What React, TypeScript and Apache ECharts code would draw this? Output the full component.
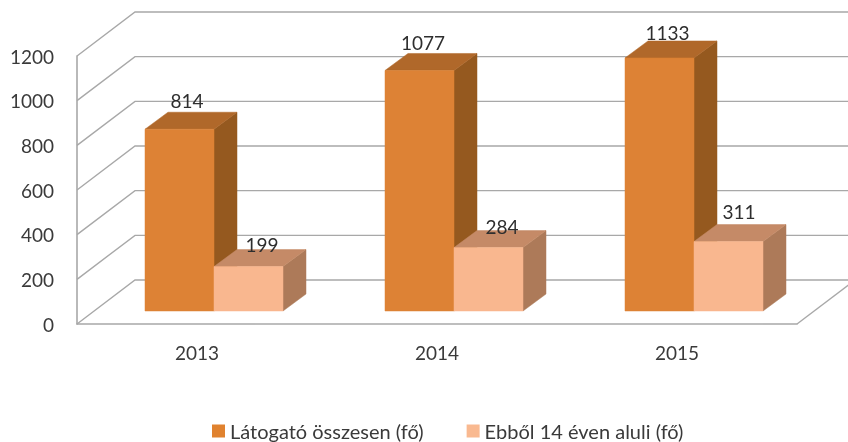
import React, { useEffect, useRef } from "react";
import * as echarts from "echarts";

const categories = ["2013", "2014", "2015"];
const totalName = "Látogató összesen (fő)";
const childName = "Ebből 14 éven aluli (fő)";
const totalValues = [814, 1077, 1133];
const childValues = [199, 284, 311];
const yTicks = [0, 200, 400, 600, 800, 1000, 1200];

// pixel nudges of value labels relative to bar front top centre
const totalLabelNudge = [[7.5, -29], [3.5, -27.5], [8, -25]];
const childLabelNudge = [[13.5, -22.5], [13.5, -21.5], [10.5, -30]];

const FONT = "Lato, Carlito, 'Open Sans', sans-serif";
const TEXT = "#3a3a3a";
const GRID = "#a8a8a8";
const WALL_DX = 58, WALL_DY = -44;      // plot depth
const FLOOR_DX = 17, FLOOR_DY = -13;    // where bar fronts stand
const BAR_DX = 23, BAR_DY = -17;        // bar depth
const BAR_BAND = 0.2875;

const renderWall = (params: any, api: any) => {
  const cs = params.coordSys;
  const y = api.coord([0, api.value(0)])[1];
  const x0 = cs.x, x1 = cs.x + cs.width;
  const children: any[] = [{
    type: "polyline", silent: true,
    shape: { points: [[x0, y], [x0 + WALL_DX, y + WALL_DY], [x1 + WALL_DX, y + WALL_DY]] },
    style: { stroke: GRID, fill: "none", lineWidth: 1.4 },
  }];
  if (api.value(0) === 0) {
    children.push({
      type: "line", silent: true,
      shape: { x1, y1: y, x2: x1 + WALL_DX, y2: y + WALL_DY },
      style: { stroke: GRID, lineWidth: 1.4 },
    });
  }
  return { type: "group", children };
};

const makeBar = (side: 0 | 1, colors: string[], nudges: number[][]) => (params: any, api: any) => {
  const idx = api.value(0), v = api.value(1);
  const [cx, yTop0] = api.coord([idx, v]);
  const yBase0 = api.coord([idx, 0])[1];
  const w = api.size([1, 0])[0] * BAR_BAND;
  const xl = cx + FLOOR_DX + (side === 0 ? -w : 0);
  const xr = xl + w;
  const yt = yTop0 + FLOOR_DY, yb = yBase0 + FLOOR_DY;
  const [nx, ny] = nudges[idx];
  const poly = (points: number[][], fill: string) => ({
    type: "polygon", silent: true, shape: { points }, style: { fill, stroke: fill, lineWidth: 0.5 },
  });
  return {
    type: "group",
    children: [
      poly([[xr, yb], [xr + BAR_DX, yb + BAR_DY], [xr + BAR_DX, yt + BAR_DY], [xr, yt]], colors[2]),
      poly([[xl, yt], [xr, yt], [xr + BAR_DX, yt + BAR_DY], [xl + BAR_DX, yt + BAR_DY]], colors[1]),
      poly([[xl, yt], [xr, yt], [xr, yb], [xl, yb]], colors[0]),
      {
        type: "text", silent: true, z2: 100,
        style: {
          text: String(v), x: (xl + xr) / 2 + nx, y: yt + ny,
          align: "center", verticalAlign: "middle",
          textAlign: "center", textVerticalAlign: "middle",
          font: `19px ${FONT}`, fill: "#2e2e2e",
        },
      },
    ],
  };
};

const orange = ["#DD8235", "#B0682A", "#95591F"];
const peach = ["#F9B78F", "#C58A67", "#AD7A59"];

export default function App() {
  const ref = useRef<HTMLDivElement>(null);
  useEffect(() => {
    const chart = echarts.init(ref.current!, undefined, { renderer: "svg" });
    chart.setOption({
      animation: false,
      backgroundColor: "#ffffff",
      grid: { left: 77, top: 56, width: 720, height: 268 },
      xAxis: {
        type: "category", data: categories,
        axisTick: { show: false },
        axisLine: { lineStyle: { color: GRID, width: 1.6 } },
        axisLabel: { fontFamily: FONT, fontSize: 19, color: TEXT, margin: 19 },
        splitLine: { show: false },
      },
      yAxis: {
        type: "value", min: 0, max: 1200, interval: 200,
        axisTick: { show: false },
        axisLine: { show: true, lineStyle: { color: GRID, width: 1.6 } },
        axisLabel: { fontFamily: FONT, fontSize: 19, color: TEXT, margin: 23, formatter: (v: number) => String(v) },
        splitLine: { show: false },
      },
      legend: {
        data: [totalName, childName],
        left: 212, top: 421, icon: "rect", itemWidth: 13, itemHeight: 13, itemGap: 43,
        textStyle: { fontFamily: FONT, fontSize: 20, lineHeight: 20, color: TEXT, padding: [0, 0, 0, 0] },
        padding: 0,
      },
      series: [
        { type: "custom", name: "wall", coordinateSystem: "cartesian2d", renderItem: renderWall,
          data: yTicks.map((t) => [t]), encode: { y: 0 }, z: 1, silent: true },
        { type: "custom", name: totalName, coordinateSystem: "cartesian2d",
          renderItem: makeBar(0, orange, totalLabelNudge), itemStyle: { color: "#E0822F" },
          data: categories.map((_, i) => [i, totalValues[i]]), encode: { x: 0, y: 1 }, z: 3 },
        { type: "custom", name: childName, coordinateSystem: "cartesian2d",
          renderItem: makeBar(1, peach, childLabelNudge), itemStyle: { color: "#F9B990" },
          data: categories.map((_, i) => [i, childValues[i]]), encode: { x: 0, y: 1 }, z: 4 },
      ],
    });
    return () => chart.dispose();
  }, []);
  return <div ref={ref} style={{ position: "absolute", left: 0, top: 0, width: 848, height: 442, filter: "blur(0.4px)" }} />;
}
